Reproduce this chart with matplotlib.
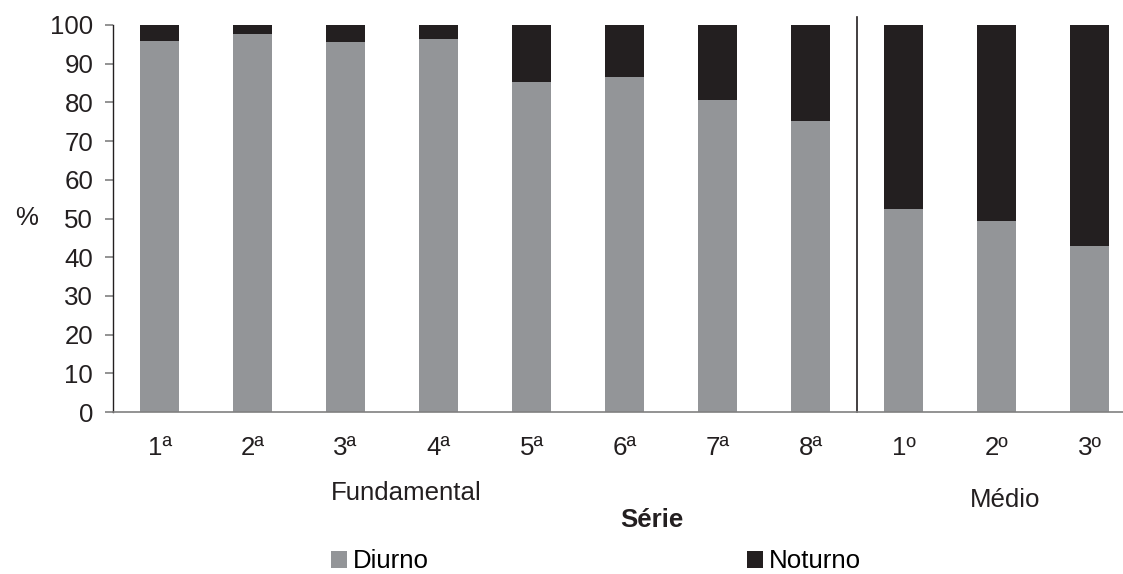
import matplotlib.pyplot as plt

# share of students per shift, by school year
categories = ["1ª", "2ª", "3ª", "4ª", "5ª", "6ª", "7ª", "8ª", "1º", "2º", "3º"]
diurno = [95.9, 97.7, 95.6, 96.4, 85.3, 86.6, 80.6, 75.2, 52.5, 49.4, 42.9]
noturno = [4.1, 2.3, 4.4, 3.6, 14.7, 13.4, 19.4, 24.8, 47.5, 50.6, 57.1]
n_fundamental = 8  # first 8 bars are "Fundamental", the rest "Médio"

GREY = "#939598"
BLACK = "#231f20"
W, H = 1123, 574
FS = 18.6

plt.rcParams["font.family"] = ["Liberation Sans", "DejaVu Sans"]
plt.rcParams["font.size"] = FS

fig = plt.figure(figsize=(W / 100, H / 100), dpi=100)
ax = fig.add_axes([113 / W, 1 - 412 / H, (1123 - 113) / W, (412 - 25) / H])

x = list(range(len(categories)))
ax.bar(x, diurno, width=0.41, color=GREY, label="Diurno")
ax.bar(x, noturno, width=0.41, bottom=diurno, color=BLACK, label="Noturno")

ax.set_xlim(-0.5, 10.36)
ax.set_ylim(0, 100)
ax.set_yticks(range(0, 101, 10))
ax.set_xticks(x)
ax.set_xticklabels(categories)

for s in ["top", "right"]:
    ax.spines[s].set_visible(False)
ax.spines["left"].set_color(BLACK)
ax.spines["left"].set_linewidth(1.0)
ax.spines["bottom"].set_color("#808080")
ax.spines["bottom"].set_linewidth(1.2)

ax.tick_params(axis="y", length=5.8, width=1.2, color="#808080", pad=8.5,
               labelcolor=BLACK)
ax.tick_params(axis="x", length=0, pad=17, labelcolor=BLACK)

# separator between Fundamental and Médio
sep = n_fundamental - 0.5
ax.plot([sep, sep], [0, 102], color=BLACK, lw=1.2, clip_on=False)

fig.text(15 / W, 1 - 218 / H, "%", ha="left", va="center", color=BLACK)
fig.text(331 / W, 1 - 500 / H, "Fundamental", ha="left", va="baseline",
         color=BLACK)
fig.text(970 / W, 1 - 507 / H, "Médio", ha="left", va="baseline",
         color=BLACK)
fig.text(620 / W, 1 - 527 / H, "Série", ha="left", va="baseline",
         fontweight="bold", color=BLACK)

fig.legend(loc="lower left", bbox_to_anchor=(331 / W, 0.5 / H), ncol=2,
           frameon=False, borderpad=0, borderaxespad=0,
           handlelength=0.62, handleheight=0.62, handletextpad=0.23,
           columnspacing=12.3)

fig.savefig("out.png", dpi=100)
